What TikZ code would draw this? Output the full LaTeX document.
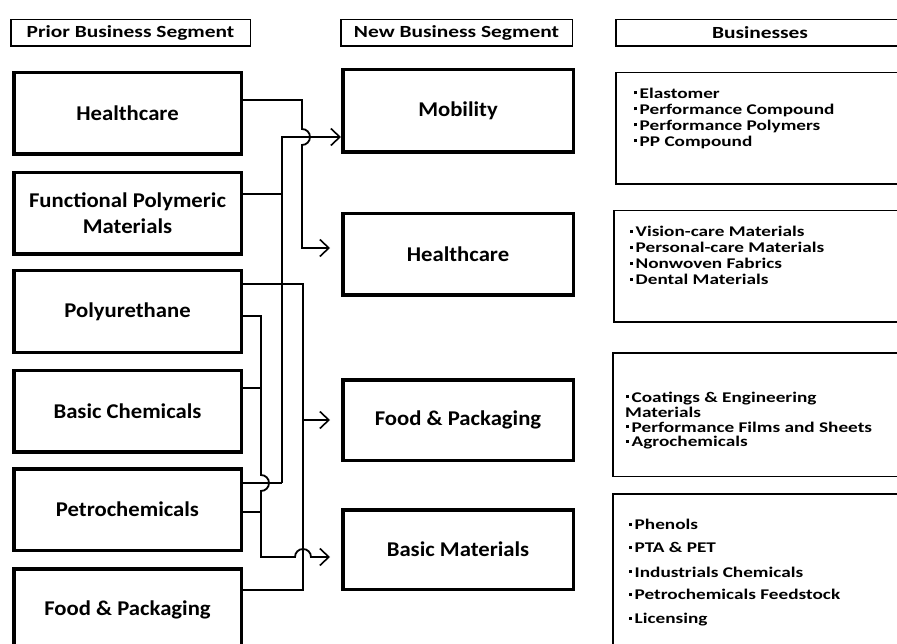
\documentclass[tikz,border=0pt]{standalone}
\usepackage{fontspec}
\setmainfont{Carlito}
\newfontfamily\boxfont{Carlito}[FakeStretch=1.08]
\newfontfamily\listfont{Carlito}[FakeStretch=1.3]
\newfontfamily\headfont{Carlito}[FakeStretch=1.26]
\usetikzlibrary{arrows.meta}
\newcommand\bul{\raisebox{4pt}{\rule{3pt}{3pt}}\hspace{2.5pt}}
\begin{document}
\begin{tikzpicture}[x=1pt,y=-1pt,
  segbox/.style={draw, line width=3.5pt, inner sep=0pt, align=center,
    font=\boxfont\bfseries\fontsize{21}{26}\selectfont},
  leftbox/.style={segbox, minimum width=227.5pt, minimum height=81.5pt},
  midbox/.style={segbox, minimum width=230.5pt},
  headbox/.style={draw, line width=1.5pt, inner sep=0pt, minimum height=26.5pt,
    font=\headfont\bfseries\fontsize{17}{20}\selectfont},
  listbox/.style={draw, line width=1.5pt, inner sep=0pt},
  item/.style={anchor=base west, inner sep=0pt, font=\listfont\bfseries\fontsize{14.8}{17}\selectfont},
  conn/.style={line width=1.8pt},
  arr/.style={conn, -{Straight Barb[length=9pt,width=17pt,line width=1.6pt]}}
]
\useasboundingbox (0,0) rectangle (897,644);
\clip (0,0) rectangle (897,644);

% headers
\node[headbox, minimum width=239.5pt] (h1) at (130.5,33) {Prior Business Segment};
\node[headbox, minimum width=231.5pt] (h2) at (456.5,33) {New Business Segment};
\node[headbox, minimum width=288.5pt] (h3) at (760,33) {Businesses};

% prior segments
\node[leftbox] (hcL)  at (127.5,113.5) {Healthcare};
\node[leftbox] (fpmL) at (127.5,213.5) {Functional Polymeric\\Materials};
\node[leftbox] (puL)  at (127.5,311.5) {Polyurethane};
\node[leftbox] (bcL)  at (127.5,411) {Basic Chemicals};
\node[leftbox] (petL) at (127.5,509.5) {Petrochemicals};
\node[leftbox] (fpL)  at (127.5,609.5) {Food \& Packaging};

% new segments
\node[midbox, minimum height=82.5pt] (mobN) at (458,111) {Mobility};
\node[midbox, minimum height=81.5pt] (hcN)  at (458,254.5) {Healthcare};
\node[midbox, minimum height=80.5pt] (fpN)  at (458,420) {Food \& Packaging};
\node[midbox, minimum height=79.5pt] (bmN)  at (458,549.5) {Basic Materials};

% businesses boxes
\node[listbox, minimum width=288.5pt, minimum height=111.5pt] (b1) at (760,128.5) {};
\node[listbox, minimum width=290.5pt, minimum height=111.5pt] (b2) at (759,266.5) {};
\node[listbox, minimum width=291.5pt, minimum height=123.5pt] (b3) at (758.5,414.5) {};
\node[listbox, minimum width=291.5pt, minimum height=185.5pt] (b4) at (758.5,586.5) {};

\node[item] (i11) at (634,98.3) {\bul Elastomer};
\node[item] (i12) at (634,114.3) {\bul Performance Compound};
\node[item] (i13) at (634,130.3) {\bul Performance Polymers};
\node[item] (i14) at (634,146.3) {\bul PP Compound};

\node[item] (i21) at (630,236.8) {\bul Vision-care Materials};
\node[item] (i22) at (630,252.8) {\bul Personal-care Materials};
\node[item] (i23) at (630,268.8) {\bul Nonwoven Fabrics};
\node[item] (i24) at (630,284.6) {\bul Dental Materials};

\node[item] (i31) at (626,402) {\bul Coatings \& Engineering};
\node[item] (i32) at (625,417) {Materials};
\node[item] (i33) at (626,432) {\bul Performance Films and Sheets};
\node[item] (i34) at (626,446.5) {\bul Agrochemicals};

\node[item] (i41) at (629,529.5) {\bul Phenols};
\node[item] (i42) at (629,552.8) {\bul PTA \& PET};
\node[item] (i43) at (629,577.2) {\bul Industrials Chemicals};
\node[item] (i44) at (629,599.5) {\bul Petrochemicals Feedstock};
\node[item] (i45) at (629,623.8) {\bul Licensing};

% arrow end points
\coordinate (tHC) at (330,248);
\coordinate (tFP) at (330,420);
\coordinate (tBM) at (330,557);

% Functional Polymeric + Petrochemicals -> Mobility
\draw[conn] (fpmL.east |- 0,194) -- (282,194);
\draw[conn] (petL.east |- 0,483) -- (282,483);
\draw[arr, line width=1.3pt] (282,483) -- (282,137) -- (mobN.west |- 0,137);

% Healthcare -> Healthcare (hops over Mobility line)
\draw[arr] (hcL.east |- 0,100) -- (302,100) -- (302,129)
  arc[start angle=90, end angle=-90, radius=8pt] -- (302,248) -- (tHC);

% Polyurethane + Food & Packaging -> Food & Packaging
\draw[conn] (puL.east |- 0,284) -- (303,284) -- (303,590) -- (fpL.east |- 0,590);
\draw[arr] (303,420) -- (tFP);

% Polyurethane + Basic Chemicals + Petrochemicals -> Basic Materials
\draw[conn] (bcL.east |- 0,388) -- (261,388);
\draw[conn] (petL.east |- 0,512) -- (261,512);
\draw[arr] (puL.east |- 0,316) -- (261,316) -- (261,475)
  arc[start angle=90, end angle=-90, radius=8pt] -- (261,557) -- (295,557)
  arc[start angle=180, end angle=0, radius=8pt] -- (tBM);
\end{tikzpicture}
\end{document}
